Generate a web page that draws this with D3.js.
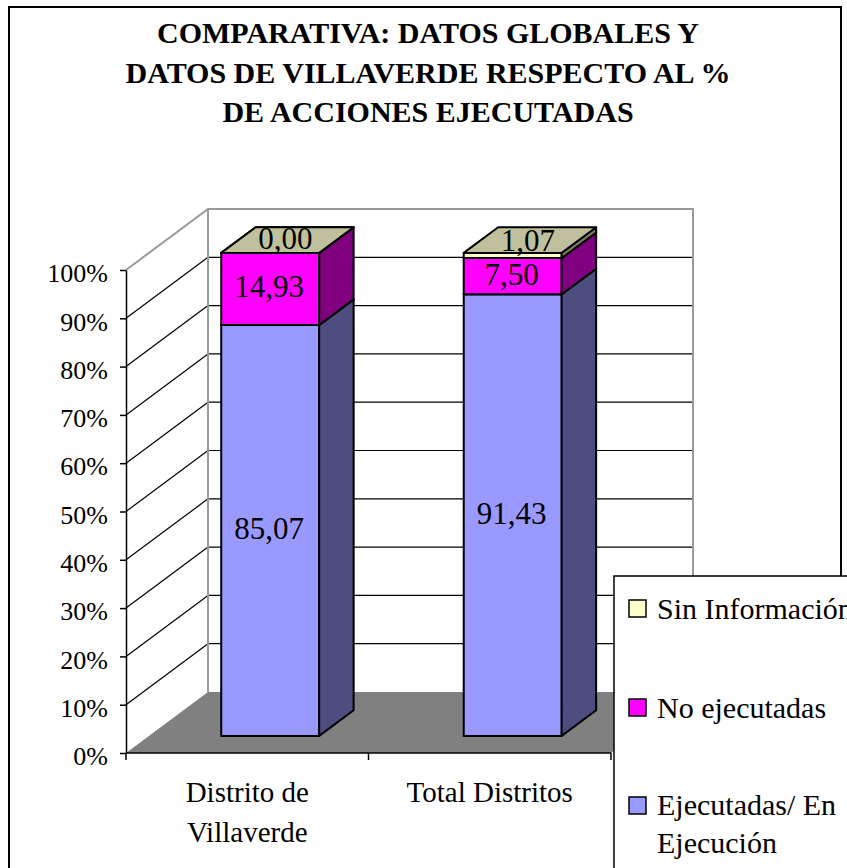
<!DOCTYPE html>
<html><head><meta charset="utf-8">
<script src="https://cdn.jsdelivr.net/npm/d3@7"></script>
<style>body{margin:0;background:#fff;overflow:hidden} svg{display:block}</style>
</head><body>
<script>
// ---- data ----
const categories = ["Distrito de Villaverde", "Total Distritos"];
const categoryLines = [["Distrito de", "Villaverde"], ["Total Distritos"]];
const seriesNames = ["Ejecutadas/ En Ejecución", "No ejecutadas", "Sin Información"];
const ejecutadas = [85.07, 91.43];
const noEjecutadas = [14.93, 7.50];
const sinInformacion = [0.00, 1.07];
const yTickValues = [0, 10, 20, 30, 40, 50, 60, 70, 80, 90, 100];
const titleLines = ["COMPARATIVA: DATOS GLOBALES Y", "DATOS DE VILLAVERDE RESPECTO AL %", "DE ACCIONES EJECUTADAS"];
const legendLines = [["Sin Información"], ["No ejecutadas"], ["Ejecutadas/ En", "Ejecución"]];

// ---- style ----
const colors = {
  "Ejecutadas/ En Ejecución": {front: "#9999FF", side: "#4D4D80", top: "#7373BF"},
  "No ejecutadas": {front: "#FF00FF", side: "#800080", top: "#C000C0"},
  "Sin Información": {front: "#FFFFCC", side: "#808066", top: "#C0C09C"}
};
const font = "Liberation Serif, Times New Roman, Times, DejaVu Serif, serif";
const W = 847, H = 868;

const svg = d3.select("body").append("svg").attr("width", W).attr("height", H)
  .style("font-family", font);

// outer chart border
svg.append("rect").attr("x", 9).attr("y", 7).attr("width", 832).attr("height", H + 20)
  .attr("fill", "#fff").attr("stroke", "#000").attr("stroke-width", 2);

// title
svg.append("g").selectAll("text").data(titleLines).join("text")
  .attr("x", 428).attr("y", (d, i) => 43 + i * 39.5)
  .attr("text-anchor", "middle").style("font-family", font).attr("font-weight", "bold")
  .attr("font-size", 30).text(d => d);

// ---- scales ----
const plot = {left: 126, right: 611, bottom: 753, top: 270};
const DX = 82, DY = -61;
const x = d3.scaleBand().domain(categories).range([plot.left, plot.right])
  .paddingInner(0.596).paddingOuter(0.298);
const y = d3.scaleLinear().domain([0, 100]).range([plot.bottom, plot.top]);
const proj = (px, v, z) => [px + z * DX, y(v) + z * DY];
const line = d3.line();

// walls
const g = svg.append("g");
const x0 = plot.left, x1 = plot.right;
g.append("path").attr("d", line([proj(x0, 0, 0), proj(x0, 100, 0), proj(x0, 100, 1), proj(x0, 0, 1)]) + "Z")
  .attr("fill", "#fff");
g.append("path").attr("d", line([proj(x0, 0, 1), proj(x0, 100, 1), proj(x1, 100, 1), proj(x1, 0, 1)]) + "Z")
  .attr("fill", "#fff");
g.append("path").attr("d", line([proj(x0, 0, 0), proj(x1, 0, 0), proj(x1, 0, 1), proj(x0, 0, 1)]) + "Z")
  .attr("fill", "#808080");

// gridlines
const gridVals = yTickValues.filter(v => v > 0 && v < 100);
g.selectAll(".gb").data(gridVals).join("path").attr("class", "gb")
  .attr("d", v => line([proj(x0, v, 1), proj(x1, v, 1)]))
  .attr("stroke", "#000").attr("stroke-width", 1.2).attr("fill", "none");
g.selectAll(".gs").data(gridVals).join("path").attr("class", "gs")
  .attr("d", v => line([proj(x0, v, 0), proj(x0, v, 1)]))
  .attr("stroke", "#000").attr("stroke-width", 1.2).attr("fill", "none");

// wall edges (gray)
g.append("path").attr("d", line([proj(x0, 100, 0), proj(x0, 100, 1), proj(x1, 100, 1), proj(x1, 0, 1)]))
  .attr("stroke", "#9a9a9a").attr("stroke-width", 2).attr("fill", "none");
g.append("path").attr("d", line([proj(x0, 100, 1), proj(x0, 0, 1)]))
  .attr("stroke", "#9a9a9a").attr("stroke-width", 2).attr("fill", "none");

// ---- y axis ----
const yAxis = d3.axisLeft(y).tickValues(yTickValues).tickFormat(d => d + "%")
  .tickSize(6).tickSizeOuter(0).tickPadding(12);
const ya = svg.append("g").attr("transform", `translate(${plot.left},0)`).call(yAxis);
ya.attr("font-family", null);
ya.select(".domain").attr("stroke", "#000").attr("stroke-width", 1.5);
ya.selectAll(".tick line").attr("stroke", "#000").attr("stroke-width", 1.5);
ya.selectAll(".tick text").style("font-family", font).attr("font-size", 26)
  .attr("fill", "#000").attr("dy", "0.45em");

// ---- x axis ----
svg.append("path").attr("d", line([[x0, plot.bottom], [x1, plot.bottom]]))
  .attr("stroke", "#000").attr("stroke-width", 1.5);
const bounds = [plot.left].concat(categories.map(c => x(c) + x.bandwidth() + x.step() * x.paddingInner() / 2));
svg.selectAll(".xt").data(bounds).join("path").attr("class", "xt")
  .attr("d", b => line([[b, plot.bottom], [b, plot.bottom + 7]]))
  .attr("stroke", "#000").attr("stroke-width", 1.5);
categories.forEach((c, i) => {
  svg.append("text").attr("x", x(c) + x.bandwidth() / 2).attr("text-anchor", "middle")
    .style("font-family", font).attr("font-size", 29)
    .selectAll("tspan").data(categoryLines[i]).join("tspan")
    .attr("x", x(c) + x.bandwidth() / 2).attr("y", (d, j) => 802 + j * 40).text(d => d);
});

// ---- bars ----
const table = categories.map((c, i) => ({
  cat: c,
  [seriesNames[0]]: ejecutadas[i],
  [seriesNames[1]]: noEjecutadas[i],
  [seriesNames[2]]: sinInformacion[i]
}));
const stacked = d3.stack().keys(seriesNames)(table);
const z0 = 0.28, z1 = 0.70;
const bars = svg.append("g");
const fmt = v => d3.format(".2f")(v).replace(".", ",");

categories.forEach((c, ci) => {
  const xl = x(c), xr = x(c) + x.bandwidth();
  stacked.forEach(s => {
    const d = s[ci], v0 = d[0], v1 = d[1];
    const col = colors[s.key];
    bars.append("path").attr("d", line([proj(xl, v0, z0), proj(xr, v0, z0), proj(xr, v1, z0), proj(xl, v1, z0)]) + "Z")
      .attr("fill", col.front).attr("stroke", "#000").attr("stroke-width", 2).attr("stroke-linejoin", "round");
    bars.append("path").attr("d", line([proj(xr, v0, z0), proj(xr, v0, z1), proj(xr, v1, z1), proj(xr, v1, z0)]) + "Z")
      .attr("fill", col.side).attr("stroke", "#000").attr("stroke-width", 2).attr("stroke-linejoin", "round");
    bars.append("path").attr("d", line([proj(xl, v1, z0), proj(xr, v1, z0), proj(xr, v1, z1), proj(xl, v1, z1)]) + "Z")
      .attr("fill", col.top).attr("stroke", "#000").attr("stroke-width", 2).attr("stroke-linejoin", "round");
  });
});

// data labels
const labels = svg.append("g");
categories.forEach((c, ci) => {
  const xc = x(c) + x.bandwidth() / 2;
  stacked.forEach((s, si) => {
    const d = s[ci];
    const vm = (d[0] + d[1]) / 2;
    const isTop = si === stacked.length - 1;
    const zl = isTop ? z0 + (z1 - z0) * 0.5 : z0;
    const p = proj(xc, vm, zl);
    labels.append("text").attr("x", p[0] + (isTop ? -2 : -1)).attr("y", p[1] + 8.5)
      .attr("text-anchor", "middle").style("font-family", font).attr("font-size", 31)
      .attr("fill", "#000").text(fmt(s[ci].data[s.key]));
  });
});

// ---- legend ----
const lg = svg.append("g");
lg.append("rect").attr("x", 614).attr("y", 576).attr("width", 300).attr("height", 400)
  .attr("fill", "#fff").attr("stroke", "#000").attr("stroke-width", 1.5);
const legendKeys = seriesNames.slice().reverse();
const legendY = [600, 699, 797];
const legendBase = [[619], [718], [815, 853]];
legendKeys.forEach((k, i) => {
  lg.append("rect").attr("x", 629).attr("y", legendY[i]).attr("width", 17).attr("height", 17)
    .attr("fill", colors[k].front).attr("stroke", "#000").attr("stroke-width", 1.5);
  lg.append("text").style("font-family", font).attr("font-size", 30).attr("fill", "#000")
    .selectAll("tspan").data(legendLines[i]).join("tspan")
    .attr("x", 657).attr("y", (d, j) => legendBase[i][j]).text(d => d);
});
</script>
</body></html>
